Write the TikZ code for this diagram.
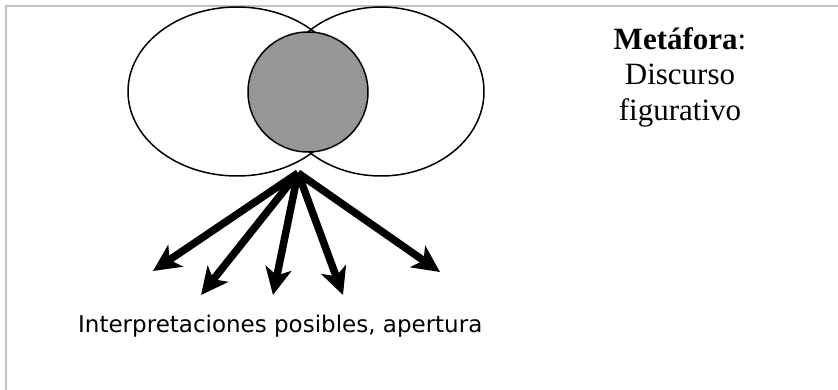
\documentclass[tikz,border=0pt]{standalone}
\usepackage{fontspec}
\setmainfont{Liberation Serif}
\newfontfamily\interpfont{DejaVu Sans}
\usetikzlibrary{arrows.meta}
\definecolor{framecolor}{RGB}{192,192,192}
\definecolor{corecolor}{RGB}{150,150,150}

\begin{document}
\begin{tikzpicture}[x=1pt,y=-1pt,
    outline/.style={line width=1.5pt, draw=black},
    spread/.style={line width=7.5pt, -{Stealth[length=27pt,width=26pt,inset=7pt]}}]
      \useasboundingbox (0,0) rectangle (838,390);
      \draw[framecolor, line width=2pt] (5.5,390) -- (5.5,6.5) -- (838,6.5);
            % two readings and their overlap
            \draw[outline, fill=white] (237,91.5) ellipse [x radius=109, y radius=84.5];
            \draw[outline] (381,91.5) ellipse [x radius=103, y radius=84.5];
            \draw[outline, fill=corecolor] (308,92) circle [radius=60];

            \coordinate (src) at (298,173);
            \coordinate (t1) at (153,271);
            \coordinate (t2) at (201,295);
            \coordinate (t3) at (273,295);
            \coordinate (t4) at (343,295);
            \coordinate (t5) at (440,272);
            \foreach \i in {1,...,5}{
                \draw[spread] (src) -- (t\i);
            }

      \node[align=center, inner sep=0pt, font=\fontsize{31}{35.5}\selectfont] (meta) at (680,77)
          {\textbf{Metáfora}:\\Discurso\\figurativo};
      \node[anchor=base west, inner sep=0pt, font=\interpfont\fontsize{23}{27}\selectfont] (interp) at (78,332)
          {Interpretaciones posibles, apertura};
        \end{tikzpicture}
\end{document}
